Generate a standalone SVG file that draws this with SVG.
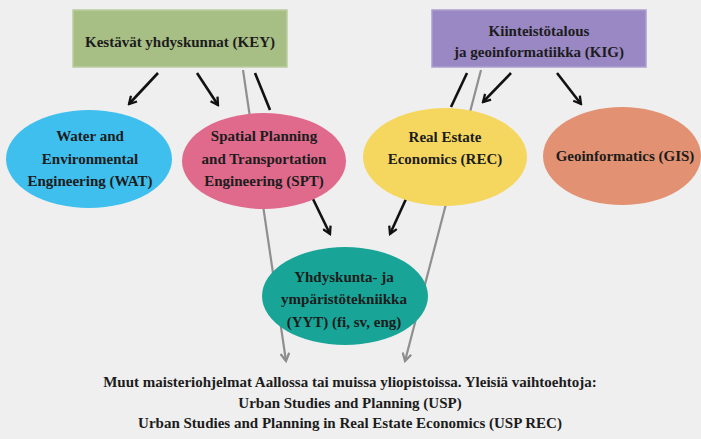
<svg xmlns="http://www.w3.org/2000/svg" width="701" height="439" viewBox="0 0 701 439">
<defs>
<marker id="ab" viewBox="0 0 10 10" refX="8" refY="5" markerWidth="4" markerHeight="4" orient="auto" markerUnits="strokeWidth">
<path d="M1,1 L8,5 L1,9" fill="none" stroke="#111" stroke-width="2.2"/>
</marker>
<marker id="ag" viewBox="0 0 10 10" refX="8" refY="5" markerWidth="5" markerHeight="5" orient="auto" markerUnits="strokeWidth">
<path d="M1,1 L8,5 L1,9" fill="none" stroke="#8c8c8c" stroke-width="2"/>
</marker>
</defs>
<style>
text{font-family:"Liberation Serif","Times New Roman",serif;font-weight:bold;font-size:15px;text-anchor:middle;fill:#1c1c1c}
.blk{stroke:#111;stroke-width:2.6;fill:none}
.gry{stroke:#8f8f8f;stroke-width:2.2;fill:none}
.ell{stroke:none}
</style>
<rect x="0" y="0" width="701" height="439" fill="#efefef"/>
<g id="connectors">
<line class="gry" x1="243" y1="70" x2="286" y2="361" marker-end="url(#ag)"/>
<line class="gry" x1="481" y1="70" x2="405" y2="361" marker-end="url(#ag)"/>
<line class="blk" x1="158" y1="73" x2="129" y2="104" marker-end="url(#ab)"/>
<line class="blk" x1="197" y1="73" x2="218" y2="105" marker-end="url(#ab)"/>
<line class="blk" x1="255" y1="73" x2="270" y2="110"/>
<line class="blk" x1="467" y1="73" x2="451" y2="107"/>
<line class="blk" x1="511" y1="73" x2="483" y2="102" marker-end="url(#ab)"/>
<line class="blk" x1="557" y1="73" x2="581" y2="104" marker-end="url(#ab)"/>
<line class="blk" x1="313" y1="199" x2="330" y2="234" marker-end="url(#ab)"/>
<line class="blk" x1="406" y1="199" x2="390" y2="234" marker-end="url(#ab)"/>
</g>
<g id="KEY">
<rect x="73" y="10" width="214" height="57" fill="#a7be84" stroke="#bccd9f" stroke-width="1.5"/>
<text x="180" y="47">Kestävät yhdyskunnat (KEY)</text>
</g>
<g id="KIG">
<rect x="432" y="10" width="214" height="57" fill="#9a88c4" stroke="#ad9fd0" stroke-width="1.5"/>
<text x="539" y="36">Kiinteistötalous</text>
<text x="539" y="57">ja geoinformatiikka (KIG)</text>
</g>
<g id="WAT">
<ellipse class="ell" cx="89" cy="159" rx="83" ry="49" fill="#3fbfee"/>
<text x="90" y="141">Water and</text>
<text x="90" y="164">Environmental</text>
<text x="90" y="186">Engineering (WAT)</text>
</g>
<g id="SPT">
<ellipse class="ell" cx="264" cy="161" rx="82" ry="48" fill="#df6a8c"/>
<text x="264" y="141">Spatial Planning</text>
<text x="264" y="164">and Transportation</text>
<text x="264" y="186">Engineering (SPT)</text>
</g>
<g id="REC">
<ellipse class="ell" cx="445" cy="157" rx="82" ry="49" fill="#f5d760"/>
<text x="445" y="142">Real Estate</text>
<text x="445" y="164">Economics (REC)</text>
</g>
<g id="GIS">
<ellipse class="ell" cx="622" cy="156" rx="79" ry="49" fill="#e29272"/>
<text x="625" y="161">Geoinformatics (GIS)</text>
</g>
<g id="YYT">
<ellipse class="ell" cx="345" cy="296" rx="83" ry="49" fill="#18a597"/>
<text x="344" y="282">Yhdyskunta- ja</text>
<text x="344" y="304">ympäristötekniikka</text>
<text x="344" y="327">(YYT) (fi, sv, eng)</text>
</g>
<g id="bottom">
<text x="350" y="387">Muut maisteriohjelmat Aallossa tai muissa yliopistoissa. Yleisiä vaihtoehtoja:</text>
<text x="350" y="408">Urban Studies and Planning (USP)</text>
<text x="350" y="428">Urban Studies and Planning in Real Estate Economics (USP REC)</text>
</g>
</svg>
